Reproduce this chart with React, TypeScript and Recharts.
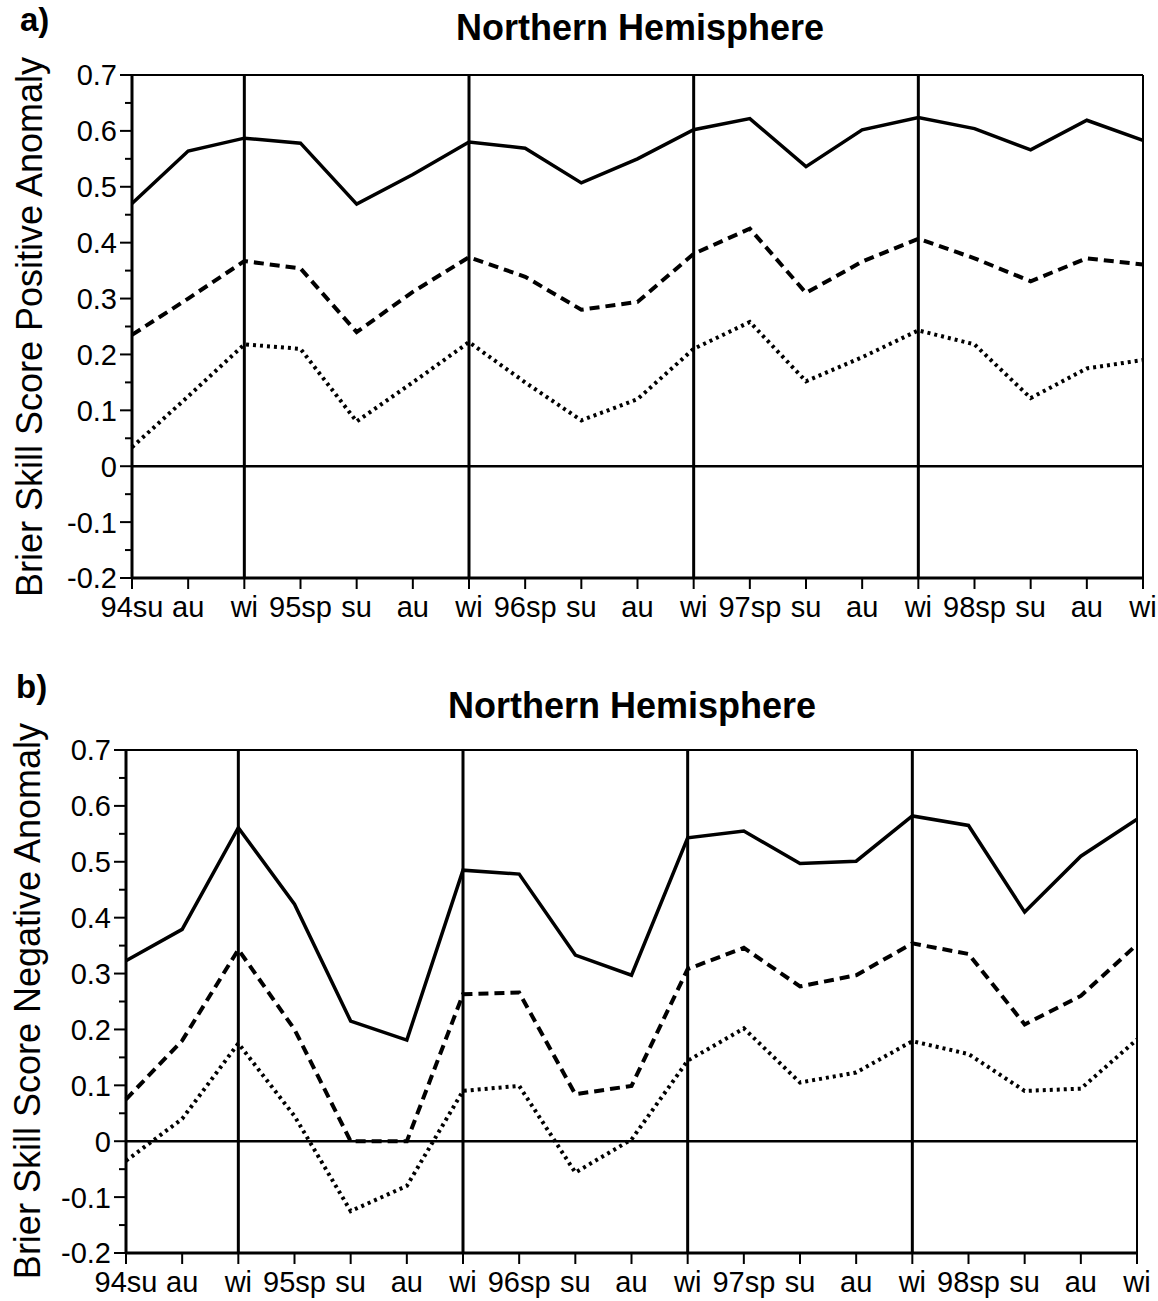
import React from 'react';
import { LineChart, Line, XAxis, YAxis, ReferenceLine } from 'recharts';

const seasonLabels = ['94su', 'au', 'wi', '95sp', 'su', 'au', 'wi', '96sp', 'su', 'au', 'wi', '97sp', 'su', 'au', 'wi', '98sp', 'su', 'au', 'wi'];
const winterIdx = [2, 6, 10, 14];
const yTicks = [-0.2, -0.15, -0.1, -0.05, 0, 0.05, 0.1, 0.15, 0.2, 0.25, 0.3, 0.35, 0.4, 0.45, 0.5, 0.55, 0.6, 0.65, 0.7];

// Panel a) Positive anomaly
const posSolid = [0.470, 0.564, 0.587, 0.578, 0.469, 0.522, 0.580, 0.569, 0.507, 0.550, 0.602, 0.622, 0.536, 0.602, 0.624, 0.604, 0.566, 0.619, 0.583];
const posDashed = [0.235, 0.300, 0.367, 0.354, 0.240, 0.312, 0.374, 0.339, 0.280, 0.294, 0.380, 0.425, 0.310, 0.366, 0.407, 0.372, 0.331, 0.372, 0.361];
const posDotted = [0.034, 0.125, 0.218, 0.210, 0.080, 0.150, 0.222, 0.150, 0.082, 0.120, 0.210, 0.258, 0.152, 0.195, 0.243, 0.218, 0.122, 0.175, 0.190];

// Panel b) Negative anomaly
const negSolid = [0.323, 0.379, 0.561, 0.424, 0.215, 0.181, 0.485, 0.478, 0.333, 0.297, 0.543, 0.555, 0.497, 0.501, 0.582, 0.565, 0.410, 0.510, 0.576];
const negDashed = [0.075, 0.180, 0.343, 0.200, 0.000, 0.000, 0.263, 0.266, 0.084, 0.099, 0.308, 0.346, 0.277, 0.297, 0.354, 0.335, 0.209, 0.260, 0.352];
const negDotted = [-0.035, 0.040, 0.175, 0.045, -0.125, -0.080, 0.090, 0.099, -0.056, 0.003, 0.144, 0.202, 0.105, 0.123, 0.179, 0.156, 0.090, 0.094, 0.182];

const FONT = '"Liberation Sans", Arial, Helvetica, sans-serif';

const XTick = (props: any) => {
  const { x, y, payload } = props;
  return (
    <g>
      <line x1={x} y1={y} x2={x} y2={y + 11} stroke="#000" strokeWidth={2} />
      <text x={x} y={y + 39} textAnchor="middle" fontSize={29} fill="#000" fontFamily={FONT}>
        {seasonLabels[payload.value]}
      </text>
    </g>
  );
};

const YTick = (props: any) => {
  const { x, y, payload } = props;
  const v = payload.value;
  const major = Math.abs(v * 10 - Math.round(v * 10)) < 1e-6;
  return (
    <g>
      <line x1={x - (major ? 12 : 7)} y1={y} x2={x} y2={y} stroke="#000" strokeWidth={2} />
      {major && (
        <text x={x - 15} y={y} dy="0.36em" textAnchor="end" fontSize={29} fill="#000" fontFamily={FONT}>
          {String(Math.round(v * 10) / 10)}
        </text>
      )}
    </g>
  );
};

type PanelProps = {
  solid: number[];
  dashed: number[];
  dotted: number[];
  height: number;
  margin: { top: number; right: number; bottom: number; left: number };
  yWidth: number;
};

function Panel({ solid, dashed, dotted, height, margin, yWidth }: PanelProps) {
  const data = seasonLabels.map((label, i) => ({ i, label, solid: solid[i], dashed: dashed[i], dotted: dotted[i] }));
  return (
    <LineChart width={1158} height={height} data={data} margin={margin}>
      <XAxis
        dataKey="i"
        type="number"
        domain={[0, 18]}
        ticks={seasonLabels.map((_, i) => i)}
        interval={0}
        height={40}
        tickSize={0}
        tickMargin={0}
        tickLine={false}
        tick={<XTick />}
        axisLine={{ stroke: '#000', strokeWidth: 3 }}
      />
      <YAxis
        type="number"
        domain={[-0.2, 0.7]}
        ticks={yTicks}
        interval={0}
        width={yWidth}
        tickSize={0}
        tickMargin={0}
        tickLine={false}
        tick={<YTick />}
        axisLine={{ stroke: '#000', strokeWidth: 3 }}
      />
      <ReferenceLine y={0.7} stroke="#000" strokeWidth={2} />
      <ReferenceLine x={18} stroke="#000" strokeWidth={2} />
      <ReferenceLine y={0} stroke="#000" strokeWidth={2.5} />
      {winterIdx.map((w) => (
        <ReferenceLine key={w} x={w} stroke="#000" strokeWidth={3} />
      ))}
      <Line type="linear" dataKey="solid" stroke="#000" strokeWidth={3.5} dot={false} isAnimationActive={false} />
      <Line type="linear" dataKey="dashed" stroke="#000" strokeWidth={4} strokeDasharray="10 6" dot={false} isAnimationActive={false} />
      <Line type="linear" dataKey="dotted" stroke="#000" strokeWidth={4} strokeDasharray="3 4" dot={false} isAnimationActive={false} />
    </LineChart>
  );
}

const abs = (left: number, top: number, extra: React.CSSProperties = {}): React.CSSProperties => ({
  position: 'absolute',
  left,
  top,
  fontFamily: FONT,
  color: '#000',
  whiteSpace: 'nowrap',
  ...extra,
});

export default function App() {
  return (
    <div style={{ position: 'absolute', left: 0, top: 0, width: 1158, height: 1301, background: '#fff', fontFamily: FONT }}>
      <div style={{ position: 'absolute', left: 0, top: 0 }}>
        <Panel solid={posSolid} dashed={posDashed} dotted={posDotted} height={650}
          margin={{ top: 75, right: 15, bottom: 32, left: 0 }} yWidth={132} />
      </div>
      <div style={{ position: 'absolute', left: 0, top: 650 }}>
        <Panel solid={negSolid} dashed={negDashed} dotted={negDotted} height={651}
          margin={{ top: 100, right: 21, bottom: 8, left: 0 }} yWidth={126} />
      </div>

      <div style={abs(20, 3, { fontSize: 33, fontWeight: 'bold', lineHeight: '33px' })}>a)</div>
      <div style={abs(340, 8, { width: 600, textAlign: 'center', fontSize: 36, fontWeight: 'bold', lineHeight: '40px' })}>
        Northern Hemisphere
      </div>
      <div style={abs(30 - 300, 327 - 20, { width: 600, height: 40, textAlign: 'center', fontSize: 36, lineHeight: '40px', transform: 'rotate(-90deg)', transformOrigin: 'center' })}>
        Brier Skill Score Positive Anomaly
      </div>

      <div style={abs(16, 670, { fontSize: 33, fontWeight: 'bold', lineHeight: '33px' })}>b)</div>
      <div style={abs(332, 686, { width: 600, textAlign: 'center', fontSize: 36, fontWeight: 'bold', lineHeight: '40px' })}>
        Northern Hemisphere
      </div>
      <div style={abs(28 - 300, 1001 - 20, { width: 600, height: 40, textAlign: 'center', fontSize: 36, lineHeight: '40px', transform: 'rotate(-90deg)', transformOrigin: 'center' })}>
        Brier Skill Score Negative Anomaly
      </div>
    </div>
  );
}
